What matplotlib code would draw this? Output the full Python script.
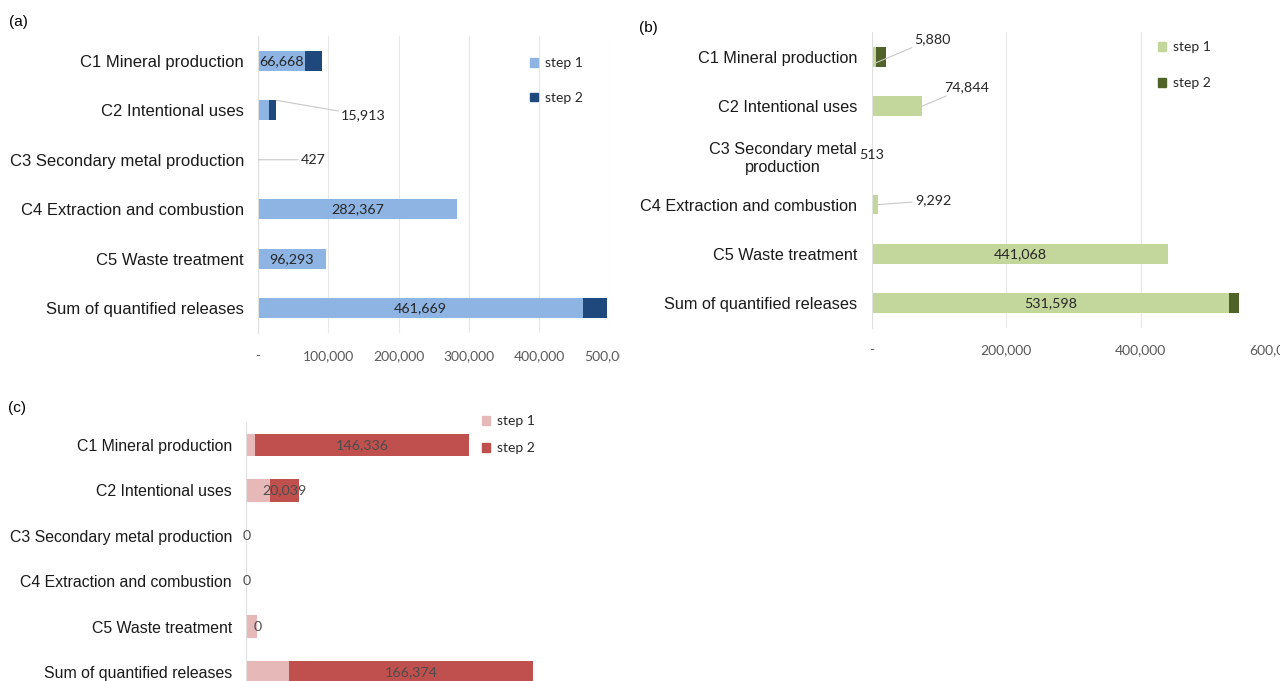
import matplotlib
matplotlib.use('Agg')
import matplotlib.pyplot as plt
from matplotlib.patches import Patch, Rectangle
from matplotlib.ticker import FuncFormatter

# categories
cats = ['C1 Mineral production', 'C2 Intentional uses', 'C3 Secondary metal production',
        'C4 Extraction and combustion', 'C5 Waste treatment', 'Sum of quantified releases']
cats_b = ['C1 Mineral production', 'C2 Intentional uses', 'C3 Secondary metal\nproduction',
          'C4 Extraction and combustion', 'C5 Waste treatment', 'Sum of quantified releases']

# (a)
a_step1 = [66668, 15913, 427, 282367, 96293, 461669]
a_step2 = [25000, 10300, 0, 0, 0, 35300]
# (b)
b_step1 = [5880, 74844, 513, 9292, 441068, 531598]
b_step2 = [15000, 0, 0, 0, 0, 15000]
# (c)
c_step1 = [5800, 16000, 0, 0, 7500, 29300]
c_step2 = [146336, 20039, 0, 0, 0, 166374]

a_ticks = [0, 100000, 200000, 300000, 400000, 500000]
b_ticks = [0, 200000, 400000, 600000]

W, H = 1280, 681
fig = plt.figure(figsize=(12.8, 6.81), dpi=100)

CAT_FONT = 'Liberation Sans'
NUM_FONT = 'Lato'


def px_axes(left, top, right, bottom):
    return fig.add_axes([left / W, 1 - bottom / H, (right - left) / W, (bottom - top) / H])


def fmt(v, pos=None):
    return '-' if v == 0 else '{:,.0f}'.format(v)


def panel(ax, labels, s1, s2, col1, col2, xmax, ticks, height, grid, pad, catsize):
    y = list(range(len(labels)))
    ax.barh(y, s1, height=height, color=col1, label='step 1', zorder=2)
    ax.barh(y, s2, left=s1, height=height, color=col2, label='step 2', zorder=2)
    ax.set_xlim(0, xmax)
    ax.set_ylim(len(labels) - 0.5, -0.5)
    ax.set_yticks(y)
    ax.set_yticklabels(labels, fontfamily=CAT_FONT, fontsize=catsize, color='#1a1a1a',
                       linespacing=1.25, ha='right', multialignment='center')
    ax.tick_params(axis='y', length=0, pad=pad)
    ax.set_xticks(ticks)
    ax.xaxis.set_major_formatter(FuncFormatter(fmt))
    ax.tick_params(axis='x', length=0, pad=12, labelcolor='#595959')
    for t in ax.get_xticklabels():
        t.set_fontfamily(NUM_FONT)
        t.set_fontsize(10)
    for s in ['top', 'right', 'bottom']:
        ax.spines[s].set_visible(False)
    ax.spines['left'].set_color('#E0E0E0')
    ax.spines['left'].set_linewidth(0.8)
    if grid:
        ax.grid(axis='x', color='#E8E8E8', lw=0.8, zorder=0)
    ax.set_axisbelow(True)


def center_label(ax, left, val, i, color='#262626'):
    ax.text(left + val / 2, i, fmt(val) if val else '0', ha='center', va='center',
            fontfamily=NUM_FONT, fontsize=10.3, color=color, zorder=3)


def leader_label(ax, xv, yv, val, dx, dy, line=True):
    ap = dict(arrowstyle='-', color='#C8C8C8', lw=0.8, shrinkA=0, shrinkB=0) if line else None
    ax.annotate(fmt(val), xy=(xv, yv), xytext=(dx, dy), textcoords='offset pixels',
                ha='center', va='center', fontfamily=NUM_FONT, fontsize=10.3,
                color='#262626', arrowprops=ap, zorder=3)


def legend(ax, col1, col2, x, y, spacing):
    h = [Patch(color=col1, label='step 1'), Patch(color=col2, label='step 2')]
    leg = ax.legend(handles=h, loc='upper left', bbox_to_anchor=(x / W, 1 - y / H),
                    bbox_transform=fig.transFigure, frameon=False, handlelength=0.6,
                    handleheight=0.6, handletextpad=0.5, labelspacing=spacing, borderpad=0,
                    borderaxespad=0, prop={'family': NUM_FONT, 'size': 10})
    for t in leg.get_texts():
        t.set_color('#262626')


# ---------------- (a)
axa = px_axes(258, 36, 609.5, 333)
panel(axa, cats, a_step1, a_step2, '#8EB4E3', '#1F497D', 500000, a_ticks, 0.4, True, 10, 12)
for i in [0, 3, 4, 5]:
    center_label(axa, 0, a_step1[i], i)
leader_label(axa, a_step1[1] + a_step2[1], 1 - 0.2, a_step1[1], 87, -15)
leader_label(axa, a_step1[2], 2, a_step1[2], 55, 0)
legend(axa, '#8EB4E3', '#1F497D', 530, 57, 1.65)
fig.text(18 / W, 1 - 22 / H, '(a)', fontfamily=CAT_FONT, fontsize=11, va='center', ha='center')
fig.patches.append(Rectangle((620 / W, 1 - 372 / H), 30 / W, 35 / H, transform=fig.transFigure,
                             color='white', zorder=10))

# ---------------- (b)
axb = px_axes(871.7, 32.4, 1275, 327.6)
panel(axb, cats_b, b_step1, b_step2, '#C3D69B', '#4F6228', 600000, b_ticks, 0.4, True, 10.6, 11.7)
for i in [4, 5]:
    center_label(axb, 0, b_step1[i], i)
leader_label(axb, b_step1[0], 0.12, b_step1[0], 57, 24)
leader_label(axb, b_step1[1], 1, b_step1[1], 45, 19)
leader_label(axb, b_step1[2], 2, b_step1[2], 0, 0, line=False)
leader_label(axb, b_step1[3], 3, b_step1[3], 55, 4)
legend(axb, '#C3D69B', '#4F6228', 1158, 41, 1.75)
fig.text(648 / W, 1 - 28 / H, '(b)', fontfamily=CAT_FONT, fontsize=11, va='center', ha='center')

# ---------------- (c)
axc = px_axes(246.4, 422.3, 612.4, 694.7)
panel(axc, cats, c_step1, c_step2, '#E6B9B8', '#C0504D', 250000, [], 0.5, False, 10.4, 11.4)
for i in range(len(cats)):
    center_label(axc, c_step1[i], c_step2[i], i, color='#4d4d4d')
legend(axc, '#E6B9B8', '#C0504D', 482, 415, 1.1)
fig.text(17 / W, 1 - 408 / H, '(c)', fontfamily=CAT_FONT, fontsize=11, va='center', ha='center')

fig.savefig('out.png', dpi=100, facecolor='white')
